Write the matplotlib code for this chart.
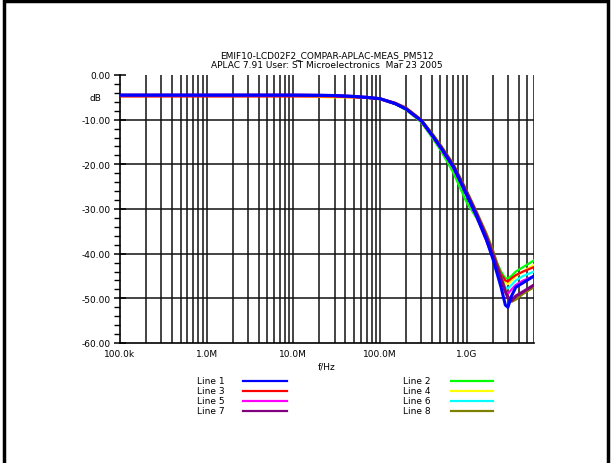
import numpy as np
import matplotlib
matplotlib.use('Agg')
import matplotlib.pyplot as plt
from matplotlib.lines import Line2D
from matplotlib.patches import Rectangle
from matplotlib.ticker import FixedLocator, NullFormatter

plt.rcParams['font.family'] = ['DejaVu Sans']

# frequency points (Hz) shared by all traces
freq = [1e5, 1e6, 1e7, 2e7, 3e7, 5e7, 7e7, 1e8, 1.5e8, 2e8, 3e8, 4e8, 5e8,
        7e8, 1e9, 1.3e9, 1.7e9, 2e9, 2.5e9, 2.8e9, 3e9, 3.3e9, 3.7e9, 4.5e9, 6e9]

line1 = [-4.5, -4.5, -4.5, -4.55, -4.6, -4.8, -5.0, -5.3, -6.4, -7.6, -10.2, -13.5, -16.2,
         -20.5, -26.8, -31.5, -37.0, -41.0, -47.5, -51.5, -52.0, -49.5, -47.5, -46.5, -45.0]
line2 = [-4.6, -4.6, -4.6, -4.6, -4.7, -4.9, -5.1, -5.4, -6.5, -7.8, -10.6, -14.0, -16.8,
         -21.8, -28.5, -32.0, -36.5, -40.0, -44.0, -45.5, -45.5, -45.0, -44.0, -43.0, -41.5]
line3 = [-4.8, -4.8, -4.8, -4.8, -4.85, -5.0, -5.1, -5.3, -6.2, -7.3, -10.0, -13.3, -16.0,
         -20.3, -26.5, -31.2, -36.5, -40.0, -44.5, -46.0, -46.2, -45.5, -44.8, -44.0, -43.0]
line4 = [-4.7, -4.7, -4.7, -4.9, -5.0, -5.0, -5.1, -5.4, -6.5, -7.7, -10.4, -13.7, -16.4,
         -20.8, -27.0, -31.7, -37.0, -40.5, -45.0, -46.5, -46.8, -46.0, -45.0, -44.0, -42.5]
line5 = [-4.6, -4.6, -4.6, -4.6, -4.7, -4.9, -5.1, -5.4, -6.5, -7.7, -10.4, -13.7, -16.4,
         -20.8, -27.0, -31.8, -37.2, -40.8, -46.0, -48.5, -49.0, -48.0, -47.0, -46.0, -45.0]
line6 = [-4.6, -4.6, -4.6, -4.6, -4.7, -4.9, -5.1, -5.4, -6.5, -7.7, -10.4, -13.7, -16.4,
         -20.8, -27.0, -31.8, -37.0, -40.5, -45.5, -47.5, -47.8, -47.0, -46.0, -45.0, -44.0]
line7 = [-4.5, -4.5, -4.5, -4.55, -4.6, -4.8, -5.0, -5.3, -6.4, -7.6, -10.2, -13.4, -16.0,
         -20.2, -26.3, -31.0, -36.3, -40.0, -45.5, -48.5, -49.8, -50.5, -49.5, -48.5, -47.0]
line8 = [-4.5, -4.5, -4.5, -4.55, -4.6, -4.8, -5.0, -5.3, -6.3, -7.4, -10.0, -13.0, -15.6,
         -19.8, -25.8, -30.5, -35.5, -39.0, -44.8, -48.0, -49.5, -50.8, -50.3, -49.0, -47.5]

series = [line1, line2, line3, line4, line5, line6, line7, line8]
names = ['Line 1', 'Line 2', 'Line 3', 'Line 4', 'Line 5', 'Line 6', 'Line 7', 'Line 8']
colors = ['#0000ff', '#00ff00', '#ff0000', '#ffff00', '#ff00ff', '#00ffff', '#800080', '#808000']

yticks = [0, -10, -20, -30, -40, -50, -60]
ytick_labels = ['0.00', '-10.00', '-20.00', '-30.00', '-40.00', '-50.00', '-60.00']
xticks = [1e5, 1e6, 1e7, 1e8, 1e9]
xtick_labels = ['100.0k', '1.0M', '10.0M', '100.0M', '1.0G']

W, H = 614, 464
fig = plt.figure(figsize=(W / 100, H / 100), dpi=100)
ax = fig.add_axes([120 / W, 1 - 344 / H, (534 - 120) / W, (344 - 76) / H])

# draw order: others first, main blue trace on top
order = [1, 3, 5, 2, 4, 7, 6, 0]
for i in order:
    lw = 2.2 if i in (0, 6) else 1.6
    ax.plot(freq, series[i], color=colors[i], lw=lw, zorder=3)

ax.set_xscale('log')
ax.set_xlim(1e5, 6e9)
ax.set_ylim(-60, 0)

# vertical grid at every log position
minor_x = [m * 10 ** d for d in range(5, 10) for m in range(1, 10) if m * 10 ** d <= 6e9]
for xv in minor_x:
    if xv > 1e5:
        ax.axvline(xv, color='#111111', lw=1.1, zorder=1)
for yv in yticks[1:-1]:
    ax.axhline(yv, color='#111111', lw=1.1, zorder=1)

ax.xaxis.set_major_locator(FixedLocator(xticks))
ax.xaxis.set_minor_locator(FixedLocator(minor_x))
ax.xaxis.set_minor_formatter(NullFormatter())
ax.set_xticklabels(xtick_labels)
ax.tick_params(axis='x', which='both', length=0, labelsize=6.5, pad=4)

ax.set_yticks(yticks)
ax.set_yticklabels(ytick_labels)
ax.yaxis.set_minor_locator(FixedLocator(list(range(-58, 0, 2))))
ax.tick_params(axis='y', which='major', direction='inout', length=9, width=1.1, labelsize=6.5, pad=2)
ax.tick_params(axis='y', which='minor', direction='out', length=4, width=1.0)

for s in ['top', 'right']:
    ax.spines[s].set_visible(False)
for s in ['left', 'bottom']:
    ax.spines[s].set_linewidth(1.2)

ax.text(-0.045, -5, 'dB', transform=ax.get_yaxis_transform(), ha='right', va='center', fontsize=6.5)
ax.set_xlabel('f/Hz', fontsize=6.5, labelpad=3)

fig.text(327 / W, 1 - 56 / H, 'EMIF10-LCD02F2_COMPAR-APLAC-MEAS_PM512', ha='center', va='center', fontsize=6.5)
fig.text(327 / W, 1 - 66 / H, 'APLAC 7.91 User: ST Microelectronics  Mar 23 2005', ha='center', va='center', fontsize=6.5)

# legend in two columns
rows_y = [381.5, 391.5, 402, 412]
for k in range(8):
    col = k % 2
    row = k // 2
    tx = 197 if col == 0 else 403
    lx0, lx1 = (243, 287) if col == 0 else (451, 493)
    yy = 1 - rows_y[row] / H
    fig.text(tx / W, yy, names[k], ha='left', va='center', fontsize=6.5)
    fig.add_artist(Line2D([lx0 / W, lx1 / W], [yy, yy], color=colors[k], lw=1.6,
                          transform=fig.transFigure))

# outer frame
fig.add_artist(Rectangle((4 / W, -0.01), (608 - 4) / W, 1 - 2 / H + 0.01, fill=False,
                         edgecolor='black', lw=2.5, transform=fig.transFigure))

fig.savefig('out.png', dpi=100)
